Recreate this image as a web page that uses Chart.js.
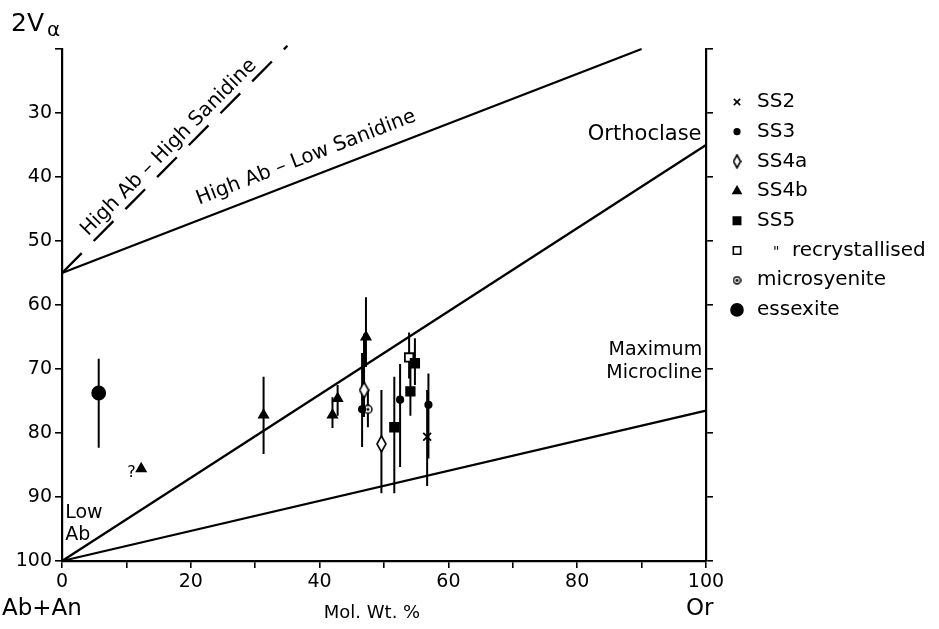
<!DOCTYPE html>
<html>
<head>
<meta charset="utf-8">
<style>
  html, body { margin: 0; padding: 0; background: #fff; }
  #wrap { width: 939px; height: 629px; }
</style>
<script src="https://cdn.jsdelivr.net/npm/chart.js@4.4.0/dist/chart.umd.min.js"></script>
</head>
<body>
<div id="wrap"><canvas id="feldsparChart" width="939" height="629"></canvas></div>
<script>
// 2V alpha against Or content (mol. wt. %), alkali feldspars

// samples: x = Or %, y = 2V, lo/hi = range of the 2V measurements
const ss2X = [56.7];
const ss2Y = [80.6];
const ss2Lo = [73.3];
const ss2Hi = [88.3];

const ss3X = [46.6, 52.5, 56.9];
const ss3Y = [76.3, 74.8, 75.6];
const ss3Lo = [67.5, 69.2, 70.7];
const ss3Hi = [82.2, 85.3, 84.0];

const ss4aX = [46.9, 49.6];
const ss4aY = [73.3, 81.7];
const ss4aLo = [64.5, 73.3];
const ss4aHi = [77.5, 89.4];

const ss4bX = [12.3, 31.3, 42.0, 42.8, 47.2];
const ss4bY = [85.6, 77.2, 77.2, 74.6, 65.0];
const ss4bLo = [null, 71.2, 74.4, 72.5, 58.8];
const ss4bHi = [null, 83.3, 79.2, 77.3, 69.7];

const ss5X = [51.6, 54.1, 54.8];
const ss5Y = [79.1, 73.5, 69.1];
const ss5Lo = [71.2, 69.5, 65.2];
const ss5Hi = [89.4, 77.3, 72.5];

const recrX = [53.9];
const recrY = [68.2];
const recrLo = [64.3];
const recrHi = [71.5];

const microsyX = [47.5];
const microsyY = [76.3];
const microsyLo = [73.3];
const microsyHi = [79.1];

const essexX = [5.7];
const essexY = [73.75];
const essexLo = [68.4];
const essexHi = [82.3];

// reference curves
const highSanX = [0, 35];
const highSanY = [55, 19.5];
const lowSanX = [0, 90];
const lowSanY = [55, 20];
const orthX = [0, 100];
const orthY = [100, 35];
const microX = [0, 100];
const microY = [100, 76.5];

const yTicks = [20, 30, 40, 50, 60, 70, 80, 90, 100];
const xTickLabels = [0, 20, 40, 60, 80, 100];

const FONT = "'DejaVu Sans', sans-serif";

function pts(xs, ys) {
    return xs.map((x, i) => ({ x: x, y: ys[i] }));
}

function bars(xs, lo, hi) {
    const out = [];
    xs.forEach((x, i) => {
        if (lo[i] == null) return;
        out.push({ x: x, y: lo[i] }, { x: x, y: hi[i] }, { x: x, y: null });
    });
    return out;
}

function diamondImg(w, h) {
    const c = document.createElement('canvas');
    c.width = w; c.height = h;
    const g = c.getContext('2d');
    g.beginPath();
    g.moveTo(w / 2, 1); g.lineTo(w - 1, h / 2); g.lineTo(w / 2, h - 1); g.lineTo(1, h / 2);
    g.closePath();
    g.fillStyle = '#fff'; g.fill();
    g.lineWidth = 1.6; g.strokeStyle = '#000'; g.stroke();
    return c;
}

function ringDotImg(d) {
    const c = document.createElement('canvas');
    c.width = d; c.height = d;
    const g = c.getContext('2d');
    g.beginPath(); g.arc(d / 2, d / 2, d / 2 - 1, 0, Math.PI * 2);
    g.fillStyle = '#fff'; g.fill();
    g.lineWidth = 1.5; g.strokeStyle = '#000'; g.stroke();
    g.beginPath(); g.arc(d / 2, d / 2, 1.5, 0, Math.PI * 2);
    g.fillStyle = '#000'; g.fill();
    return c;
}

function marker(label, xs, ys, style, r, fill, legR, legStyle) {
    return {
        label: label, data: pts(xs, ys), order: 0,
        pointStyle: style, pointRadius: r, pointBorderWidth: 1.8,
        pointBackgroundColor: fill, pointBorderColor: '#000',
        showLine: false, legendRadius: legR, legendStyle: legStyle || style, isMarker: true
    };
}

function errs(xs, lo, hi) {
    return {
        data: bars(xs, lo, hi), order: 1, showLine: true, spanGaps: false,
        pointRadius: 0, borderColor: '#000', borderWidth: 2
    };
}

function curve(id, xs, ys, dash) {
    return {
        id: id, data: pts(xs, ys), order: 2, showLine: true, clip: false,
        pointRadius: 0, borderColor: '#000', borderWidth: 2.3, borderDash: dash || []
    };
}

const datasets = [
    marker('SS2', ss2X, ss2Y, 'crossRot', 5.5, '#000', 4.5),
    marker('SS3', ss3X, ss3Y, 'circle', 3.2, '#000', 2.8),
    marker('SS4a', ss4aX, ss4aY, diamondImg(11, 18), 5, '#fff', 5, diamondImg(9, 15)),
    marker('SS4b', ss4bX, ss4bY, 'triangle', 5.2, '#000', 4.6),
    marker('SS5', ss5X, ss5Y, 'rect', 6, '#000', 5.2),
    marker('recrystallised', recrX, recrY, 'rect', 6, '#fff', 5.2),
    marker('microsyenite', microsyX, microsyY, ringDotImg(10), 5, '#fff', 4.5, ringDotImg(9)),
    marker('essexite', essexX, essexY, 'circle', 6.5, '#000', 6),
    errs(ss2X, ss2Lo, ss2Hi),
    errs(ss3X, ss3Lo, ss3Hi),
    errs(ss4aX, ss4aLo, ss4aHi),
    errs(ss4bX, ss4bLo, ss4bHi),
    errs(ss5X, ss5Lo, ss5Hi),
    errs(recrX, recrLo, recrHi),
    errs(microsyX, microsyLo, microsyHi),
    errs(essexX, essexLo, essexHi),
    curve('highSan', highSanX, highSanY, [28, 17]),
    curve('lowSan', lowSanX, lowSanY),
    curve('orth', orthX, orthY),
    curve('micro', microX, microY)
];

// text labels on the plot, anchored in data units
const notes = [
    { text: 'High Ab – High Sanidine', x: 16.6, y: 35.4, along: 'highSan', size: 20 },
    { text: 'High Ab – Low Sanidine', x: 37.9, y: 37.0, along: 'lowSan', size: 20 },
    { text: 'Orthoclase', x: 99.3, y: 33.4, align: 'right', size: 21 },
    { text: 'Maximum', x: 99.4, y: 67.0, align: 'right', size: 19 },
    { text: 'Microcline', x: 99.4, y: 70.6, align: 'right', size: 19 },
    { text: 'Low', x: 0.5, y: 92.5, align: 'left', size: 19 },
    { text: 'Ab', x: 0.5, y: 95.9, align: 'left', size: 19 },
    { text: '?', x: 10.8, y: 86.3, align: 'center', size: 16 }
];

const notesPlugin = {
    id: 'notes',
    afterDatasetsDraw(chart) {
        const ctx = chart.ctx, xs = chart.scales.x, ys = chart.scales.y;
        ctx.save();
        ctx.fillStyle = '#000';
        ctx.textBaseline = 'middle';
        notes.forEach(n => {
            const px = xs.getPixelForValue(n.x), py = ys.getPixelForValue(n.y);
            let rot = 0;
            if (n.along) {
                const d = chart.data.datasets.find(s => s.id === n.along).data;
                const dx = xs.getPixelForValue(d[1].x) - xs.getPixelForValue(d[0].x);
                const dy = ys.getPixelForValue(d[1].y) - ys.getPixelForValue(d[0].y);
                rot = Math.atan2(dy, dx);
            }
            ctx.font = n.size + 'px ' + FONT;
            ctx.textAlign = n.align || 'center';
            ctx.save();
            ctx.translate(px, py);
            ctx.rotate(rot);
            ctx.fillText(n.text, 0, 0);
            ctx.restore();
        });
        ctx.restore();
    }
};

const sideTextPlugin = {
    id: 'sideText',
    afterDraw(chart) {
        const ctx = chart.ctx;
        ctx.save();
        ctx.fillStyle = '#000';
        ctx.textBaseline = 'middle';
        ctx.textAlign = 'left';
        ctx.font = '25px ' + FONT;
        ctx.fillText('2V', 11, 24);
        ctx.font = '20px ' + FONT;
        ctx.fillText('α', 47, 31);
        ctx.font = '23px ' + FONT;
        ctx.fillText('Ab+An', 2, 609);
        ctx.fillText('Or', 686, 609);
        ctx.font = '18px ' + FONT;
        ctx.textAlign = 'center';
        ctx.fillText('Mol. Wt. %', 372, 613);

        // legend
        const lx = 737, tx = 757;
        let ly = 102;
        chart.data.datasets.filter(d => d.isMarker).forEach(d => {
            ctx.save();
            ctx.fillStyle = d.pointBackgroundColor;
            ctx.strokeStyle = '#000';
            ctx.lineWidth = 1.6;
            Chart.helpers.drawPoint(ctx, { pointStyle: d.legendStyle, radius: d.legendRadius, rotation: 0, borderWidth: 1.6 }, lx, ly);
            ctx.restore();
            ctx.font = '20px ' + FONT;
            ctx.textAlign = 'left';
            if (d.label === 'recrystallised') {
                ctx.font = '14px ' + FONT;
                ctx.fillText('"', 773, ly + 2);
                ctx.font = '20px ' + FONT;
                ctx.fillText(d.label, 792, ly);
            } else {
                ctx.fillText(d.label, tx, ly);
            }
            ly += 29.7;
        });
        ctx.restore();
    }
};

const tickFont = { family: FONT, size: 19 };
const axisGrid = { drawOnChartArea: false, drawTicks: true, tickLength: 7, color: '#000', lineWidth: 1.6 };
const axisBorder = { display: true, color: '#000', width: 2.2 };

new Chart(document.getElementById('feldsparChart').getContext('2d'), {
    type: 'scatter',
    data: { datasets: datasets },
    options: {
        responsive: false,
        animation: false,
        events: [],
        layout: { padding: { top: 49, left: 0, right: 0, bottom: 0 } },
        plugins: { legend: { display: false }, tooltip: { enabled: false } },
        scales: {
            x: {
                type: 'linear', position: 'bottom', min: 0, max: 100,
                afterFit: s => { s.height = 68; },
                ticks: {
                    stepSize: 10, autoSkip: false, maxRotation: 0, padding: 3,
                    color: '#000', font: tickFont,
                    callback: v => xTickLabels.includes(v) ? String(v) : ''
                },
                grid: axisGrid, border: axisBorder
            },
            y: {
                type: 'linear', position: 'left', min: 20, max: 100, reverse: true,
                afterFit: s => { s.width = 62; },
                afterBuildTicks: s => { s.ticks = yTicks.map(v => ({ value: v })); },
                ticks: {
                    padding: 3, color: '#000', font: tickFont,
                    callback: v => v === 20 ? '' : String(v)
                },
                grid: axisGrid, border: axisBorder
            },
            y2: {
                type: 'linear', position: 'right', min: 20, max: 100, reverse: true,
                afterFit: s => { s.width = 233; },
                afterBuildTicks: s => { s.ticks = yTicks.map(v => ({ value: v })); },
                ticks: { callback: () => '', font: tickFont },
                grid: axisGrid, border: axisBorder
            }
        }
    },
    plugins: [notesPlugin, sideTextPlugin]
});
</script>
</body>
</html>
